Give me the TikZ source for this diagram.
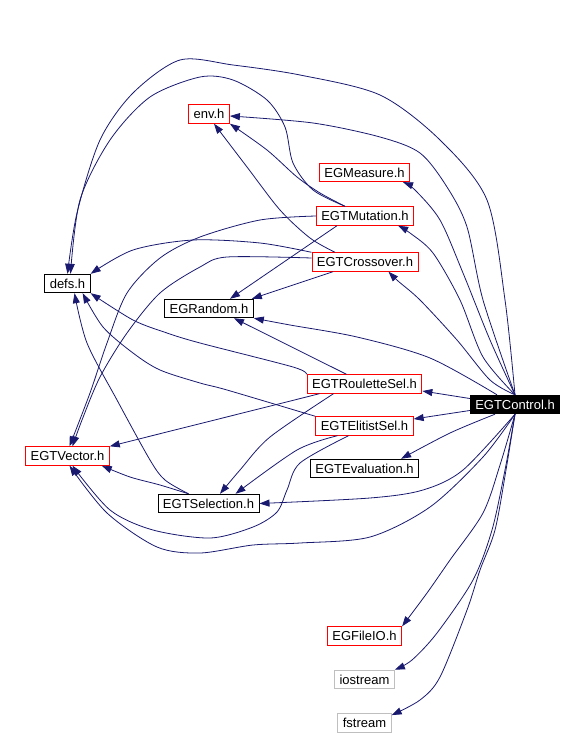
\documentclass[tikz,border=0pt]{standalone}
\usepackage{fontspec}
\setmainfont{Liberation Sans}
\usetikzlibrary{positioning, arrows.meta}

\definecolor{edgeblue}{HTML}{191970}
\definecolor{sysgray}{HTML}{BFBFBF}

\begin{document}
\begin{tikzpicture}[x=1bp, y=-1bp, >={Triangle[length=10bp, width=7bp]}, node distance=24bp]
        \tikzstyle{hdr} = [rectangle, draw=black, line width=0.9bp, fill=white, inner xsep=5bp, inner ysep=0pt, minimum height=18.5bp, font=\fontsize{13bp}{15bp}\selectfont]
        \tikzstyle{hdr_red} = [hdr, draw=red]
        \tikzstyle{hdr_sys} = [hdr, draw=sysgray]
        \tikzstyle{hdr_main} = [hdr, fill=black, text=white]
        \tikzstyle{dep} = [->, draw=edgeblue, line width=0.8bp]

        \useasboundingbox (0,0) rectangle (585,733);

        \node [hdr_main] (ctrl) at (515,404.5) {EGTControl.h};
        \node [hdr_red] (env) at (209,114) {env.h};
        \node [hdr] (defs) at (67.5,283.5) {defs.h};
        \node [hdr_red] (measure) at (364.5,172.5) {EGMeasure.h};
        \node [hdr_red] (mutation) at (365,216) {EGTMutation.h};
        \node [hdr_red] (crossover) at (365,262) {EGTCrossover.h};
        \node [hdr] (random) at (209,308.5) {EGRandom.h};
        \node [hdr_red] (roulette) at (364.5,384) {EGTRouletteSel.h};
        \node [hdr_red] (elitist) at (364.5,426) {EGTElitistSel.h};
        \node [hdr] (evaluation) at (364.5,468.5) {EGTEvaluation.h};
        \node [hdr_red] (vector) at (67.5,456) {EGTVector.h};
        \node [hdr] (selection) at (208.5,503.5) {EGTSelection.h};
        \node [hdr_red] (fileio) at (364.5,636) {EGFileIO.h};
        \node [hdr_sys, below=of fileio] (iostream) {iostream};
        \node [hdr_sys, below=of iostream] (fstream) {fstream};

        % includes of EGTControl.h
        \draw [dep] plot[smooth] coordinates {(ctrl.north) (505,300) (487,200) (440,140) (380,95) (300,75) (233,65) (180,60) (133,93) (100,140) (77,213) (defs.north)};
        \draw [dep] plot[smooth] coordinates {(ctrl.north) (483,300) (467,227) (447,187) (420,153) (380,137) (313,123) ([yshift=-2bp]env.east)};
        \draw [dep] plot[smooth] coordinates {(ctrl.north) (490,340) (463,273) (440,220) (415,190) ([xshift=-7bp]measure.south east)};
        \draw [dep] plot[smooth] coordinates {(ctrl.north) (483,357) (460,300) (433,253) (410,233) ([xshift=-16bp]mutation.south east)};
        \draw [dep] plot[smooth] coordinates {(ctrl.north) (490,380) (457,340) (420,300) (398,281) ([xshift=-30bp]crossover.south east)};
        \draw [dep] plot[smooth] coordinates {([xshift=-18bp]ctrl.north) (430,358) (357,337) (290,325) (random.south east)};
        \draw [dep] ([yshift=6bp]ctrl.west) -- ([yshift=-7bp]roulette.east);
        \draw [dep] ([yshift=-6bp]ctrl.west) -- ([yshift=7bp]elitist.east);
        \draw [dep] plot[smooth] coordinates {([xshift=-20bp]ctrl.south) (450,433) ([xshift=-18bp]evaluation.north east)};
        \draw [dep] plot[smooth] coordinates {(ctrl.south) (463,470) (423,490) (370,498) (selection.east)};
        \draw [dep] plot[smooth] coordinates {(ctrl.south) (483,457) (430,507) (370,537) (300,543) (253,545) (200,553) (157,547) (107,513) ([xshift=2bp]vector.south)};
        \draw [dep] plot[smooth] coordinates {(ctrl.south) (500,465) (483,513) (450,560) (427,593) (fileio.north east)};
        \draw [dep] plot[smooth] coordinates {(ctrl.south) (505,470) (492,530) (473,580) (437,633) (412,660) (iostream.north east)};
        \draw [dep] plot[smooth] coordinates {(ctrl.south) (506,470) (495,530) (480,570) (467,610) (440,677) (420,700) ([yshift=-2bp]fstream.north east)};

        % includes of EGTMutation.h and EGTCrossover.h
        \draw [dep] plot[smooth] coordinates {([xshift=-20bp]mutation.north) (313,190) (293,163) (285,127) (267,100) (233,80) (200,77) (150,97) (110,140) (80,200) ([xshift=3bp]defs.north)};
        \draw [dep] plot[smooth] coordinates {([xshift=-20bp]mutation.north) (320,193) (297,177) (267,150) (env.south east)};
        \draw [dep] plot[smooth] coordinates {(mutation.west) (260,220) (200,237) (160,258) (127,293) (107,343) (90,393) ([xshift=2bp]vector.north)};
        \draw [dep] ([xshift=-28bp]mutation.south) -- ([xshift=21bp]random.north);
        \draw [dep] plot[smooth] coordinates {(crossover.north west) (260,243) (193,240) (133,250) (defs.north east)};
        \draw [dep] plot[smooth] coordinates {([xshift=-30bp]crossover.north) (310,238) (280,210) (247,167) ([xshift=5bp]env.south)};
        \draw [dep] plot[smooth] coordinates {([yshift=4bp]crossover.west) (227,257) (200,267) (160,293) (127,333) (100,377) (82,420) ([xshift=5bp]vector.north)};
        \draw [dep] ([xshift=-32bp]crossover.south) -- ([xshift=-2bp]random.north east);

        % includes of the selection headers
        \draw [dep] plot[smooth] coordinates {(roulette.north west) (293,367) (200,343) (167,333) (133,320) (defs.south east)};
        \draw [dep] ([xshift=-18bp]roulette.north) -- ([xshift=25bp]random.south);
        \draw [dep] ([xshift=-45bp]roulette.south) -- (vector.north east);
        \draw [dep] plot[smooth] coordinates {([xshift=-31bp]roulette.south) (270,437) (240,470) ([xshift=11.5bp]selection.north)};
        \draw [dep] plot[smooth] coordinates {(elitist.north west) (227,390) (200,383) (160,370) (133,353) (103,327) ([xshift=-8bp]defs.south east)};
        \draw [dep] plot[smooth] coordinates {([xshift=-27bp]elitist.south) (297,450) ([xshift=27bp]selection.north)};
        \draw [dep] plot[smooth] coordinates {([xshift=-16bp]elitist.south) (300,463) (287,490) (277,512) (253,527) (210,538) (153,530) (110,510) ([xshift=5bp]vector.south)};
        \draw [dep] plot[smooth] coordinates {([xshift=-20bp]selection.north) (165,480) (150,460) (117,400) (87,343) ([xshift=7bp]defs.south)};
        \draw [dep] plot[smooth] coordinates {([xshift=-20bp]selection.north) (160,485) (130,477) ([xshift=-8bp]vector.south east)};

\end{tikzpicture}
\end{document}
